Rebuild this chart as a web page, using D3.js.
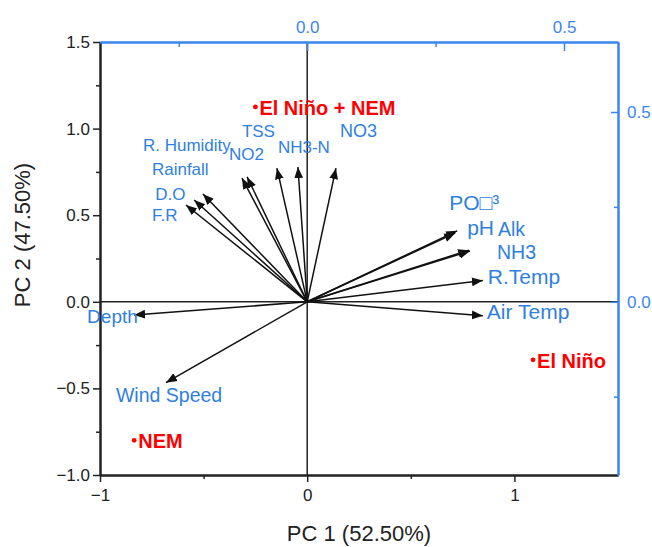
<!DOCTYPE html>
<html>
<head>
<meta charset="utf-8">
<script src="https://cdn.jsdelivr.net/npm/d3@7"></script>
<style>
  body { margin: 0; background: #fff; }
  svg { font-family: "Liberation Sans", Arial, sans-serif; }
</style>
</head>
<body>
<div class="canvas"></div>
<script>
// scores (bottom / left axes)
const sampleNames = ['El Niño + NEM', 'El Niño', 'NEM'];
const pc1Scores = [-0.25, 1.09, -0.835];
const pc2Scores = [1.125, -0.335, -0.80];

// loadings (top / right axes)
const varNames = ['F.R', 'D.O', 'Rainfall', 'R. Humidity', 'NO2', 'TSS', 'NH3-N', 'NO3',
  'PO\u25A1\u00B3', 'pH', 'Alk', 'NH3', 'R.Temp', 'Air Temp', 'Depth', 'Wind Speed'];
const pc1Loadings = [-0.236, -0.220, -0.203, -0.127, -0.117, -0.059, -0.018, 0.056,
  0.292, 0.288, 0.315, 0.317, 0.342, 0.342, -0.337, -0.275];
const pc2Loadings = [0.255, 0.268, 0.284, 0.326, 0.329, 0.352, 0.355, 0.352,
  0.187, 0.181, 0.136, 0.134, 0.056, -0.037, -0.035, -0.213];

// tick values
const xTicks = [-1, 0, 1];
const xMinor = [-0.5, 0.5];
const yTicks = [-1, -0.5, 0, 0.5, 1, 1.5];
const yMinor = [-0.75, -0.25, 0.25, 0.75, 1.25];
const topTicks = [0, 0.5];
const topMinor = [-0.25, 0.25];
const rightTicks = [0, 0.5];
const rightMinor = [-0.25, 0.25];

// label placement (px offset from arrow tip) and font size
const labelLayout = {
  'F.R': [-34, 16, 17], 'D.O': [-39, 0, 17], 'Rainfall': [-51, -19, 17],
  'R. Humidity': [-99, -27, 17], 'NO2': [-18, -17, 17], 'TSS': [-35, -31, 17],
  'NH3-N': [-20, -14, 17], 'NO3': [4, -31, 18],
  'PO\u25A1\u00B3': [-8, -21, 21], 'pH': [12, 2, 21], 'Alk': [29, -14, 19.5],
  'NH3': [27, 8, 19.5], 'R.Temp': [5, 3, 21], 'Air Temp': [4, 3, 21],
  'Depth': [-47, 8, 19], 'Wind Speed': [-50, 19, 19.5]
};

const W = 652, H = 547;
const plot = { left: 100, right: 618, top: 42, bottom: 475 };
const blue = '#3b86ec';
const labelBlue = '#2f7fe2';

const svg = d3.select('.canvas').append('svg')
  .attr('width', W).attr('height', H);

const x = d3.scaleLinear().domain([-1, 1.5]).range([plot.left, plot.right]);
const y = d3.scaleLinear().domain([-1, 1.5]).range([plot.bottom, plot.top]);
const xTop = d3.scaleLinear().domain([-0.4034, 0.6051]).range([plot.left, plot.right]);
const yRight = d3.scaleLinear().domain([-0.4563, 0.6844]).range([plot.bottom, plot.top]);

// zero lines
svg.append('line')
  .attr('x1', plot.left).attr('x2', plot.right)
  .attr('y1', y(0)).attr('y2', y(0))
  .attr('stroke', '#222').attr('stroke-width', 1.5);
svg.append('line')
  .attr('x1', x(0)).attr('x2', x(0))
  .attr('y1', plot.top).attr('y2', plot.bottom)
  .attr('stroke', '#222').attr('stroke-width', 1.5);

// axes
const styleAxis = (g, colour, size) => {
  g.select('.domain').attr('stroke', colour).attr('stroke-width', 2);
  g.selectAll('.tick line').attr('stroke', colour).attr('stroke-width', 1.5);
  g.selectAll('.tick text').attr('fill', colour).attr('font-size', size)
    .attr('font-family', '"Liberation Sans", Arial, sans-serif');
};

// left
svg.append('g').attr('transform', `translate(${plot.left},0)`)
  .call(d3.axisLeft(y).tickValues(yMinor).tickFormat('').tickSize(4).tickSizeOuter(0))
  .call(g => styleAxis(g, '#222', 17));
svg.append('g').attr('transform', `translate(${plot.left},0)`)
  .call(d3.axisLeft(y).tickValues(yTicks).tickFormat(d3.format('.1f')).tickSize(7).tickSizeOuter(0).tickPadding(3))
  .call(g => styleAxis(g, '#222', 17));

// bottom
svg.append('g').attr('transform', `translate(0,${plot.bottom})`)
  .call(d3.axisBottom(x).tickValues(xMinor).tickFormat('').tickSize(4).tickSizeOuter(0))
  .call(g => styleAxis(g, '#222', 17));
svg.append('g').attr('transform', `translate(0,${plot.bottom})`)
  .call(d3.axisBottom(x).tickValues(xTicks).tickFormat(d3.format('d')).tickSize(7).tickSizeOuter(0).tickPadding(7))
  .call(g => styleAxis(g, '#222', 17));

// top (loadings)
svg.append('g').attr('transform', `translate(0,${plot.top})`)
  .call(d3.axisTop(xTop).tickValues(topMinor).tickFormat('').tickSize(-5).tickSizeOuter(0))
  .call(g => styleAxis(g, blue, 17));
svg.append('g').attr('transform', `translate(0,${plot.top})`)
  .call(d3.axisTop(xTop).tickValues(topTicks).tickFormat(d3.format('.1f')).tickSize(-9).tickSizeOuter(0).tickPadding(9))
  .call(g => styleAxis(g, blue, 17));

// right (loadings)
svg.append('g').attr('transform', `translate(${plot.right},0)`)
  .call(d3.axisRight(yRight).tickValues(rightMinor).tickFormat('').tickSize(-4).tickSizeOuter(0))
  .call(g => styleAxis(g, blue, 17));
svg.append('g').attr('transform', `translate(${plot.right},0)`)
  .call(d3.axisRight(yRight).tickValues(rightTicks).tickFormat(d3.format('.1f')).tickSize(-7).tickSizeOuter(0).tickPadding(9))
  .call(g => styleAxis(g, blue, 17));

// axis titles
svg.append('text')
  .attr('x', (plot.left + plot.right) / 2).attr('y', 541)
  .attr('text-anchor', 'middle').attr('font-size', 22).attr('fill', '#222')
  .text('PC 1 (52.50%)');
svg.append('text')
  .attr('transform', 'translate(30,235) rotate(-90)')
  .attr('text-anchor', 'middle').attr('font-size', 22).attr('fill', '#222')
  .text('PC 2 (47.50%)');

// arrowhead marker
svg.append('defs').append('marker')
  .attr('id', 'head')
  .attr('viewBox', '0 -5 10 10')
  .attr('refX', 10).attr('refY', 0)
  .attr('markerUnits', 'userSpaceOnUse')
  .attr('markerWidth', 11).attr('markerHeight', 11)
  .attr('orient', 'auto')
  .append('path').attr('d', 'M0,-4L10,0L0,4Z').attr('fill', '#111');

const loadings = varNames.map((name, i) => ({ name, px: pc1Loadings[i], py: pc2Loadings[i] }));

svg.append('g').selectAll('line')
  .data(loadings)
  .enter().append('line')
  .attr('x1', xTop(0)).attr('y1', yRight(0))
  .attr('x2', d => xTop(d.px)).attr('y2', d => yRight(d.py))
  .attr('stroke', '#111').attr('stroke-width', 1.5)
  .attr('marker-end', 'url(#head)');

svg.append('g').selectAll('text')
  .data(loadings)
  .enter().append('text')
  .attr('x', d => xTop(d.px) + labelLayout[d.name][0])
  .attr('y', d => yRight(d.py) + labelLayout[d.name][1])
  .attr('font-size', d => labelLayout[d.name][2])
  .attr('fill', labelBlue)
  .text(d => d.name);

// sample scores
const scores = sampleNames.map((name, i) => ({ name, sx: pc1Scores[i], sy: pc2Scores[i] }));

svg.append('g').selectAll('circle')
  .data(scores)
  .enter().append('circle')
  .attr('cx', d => x(d.sx)).attr('cy', d => y(d.sy))
  .attr('r', 2.4).attr('fill', '#ff0000');

svg.append('g').selectAll('text')
  .data(scores)
  .enter().append('text')
  .attr('x', d => x(d.sx) + 4)
  .attr('y', d => y(d.sy) + 8)
  .attr('font-size', 20).attr('font-weight', 'bold')
  .attr('fill', '#ff0000')
  .text(d => d.name);
</script>
</body>
</html>
